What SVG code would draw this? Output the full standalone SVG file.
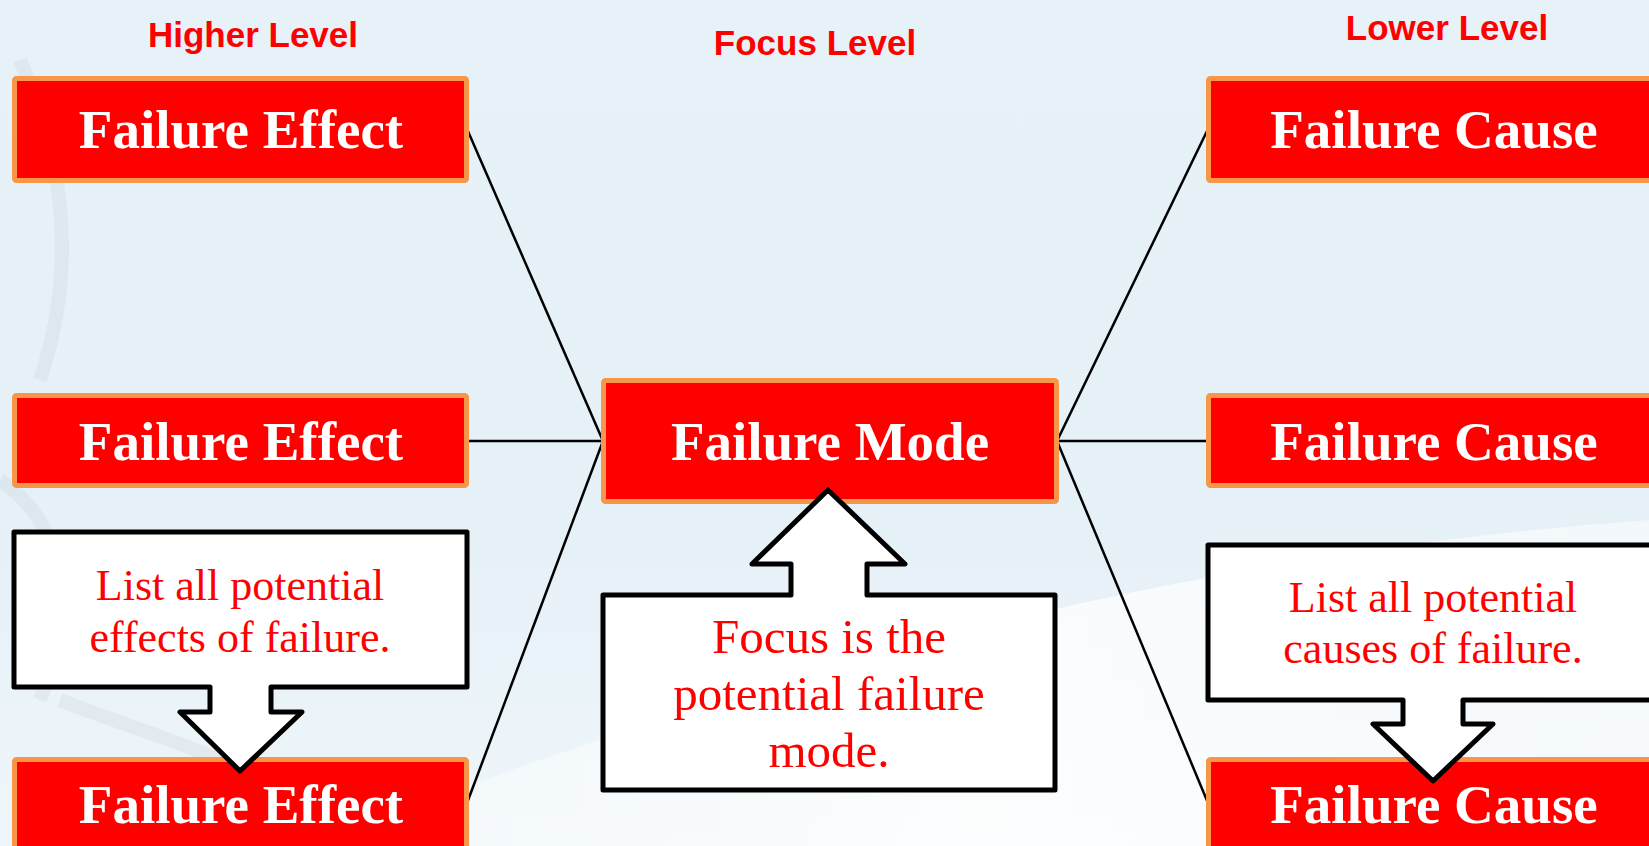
<svg xmlns="http://www.w3.org/2000/svg" width="1649" height="846" viewBox="0 0 1649 846">
<defs>
<linearGradient id="bg" x1="0" y1="0" x2="0" y2="1">
<stop offset="0" stop-color="#E6F1F8"/>
<stop offset="0.6" stop-color="#E5F0F7"/>
<stop offset="1" stop-color="#EFF6FA"/>
</linearGradient>
<linearGradient id="swoosh" x1="0" y1="0" x2="1" y2="0">
<stop offset="0" stop-color="#FFFFFF" stop-opacity="0.2"/>
<stop offset="0.5" stop-color="#FFFFFF" stop-opacity="0.8"/>
<stop offset="1" stop-color="#FFFFFF" stop-opacity="0.5"/>
</linearGradient>
<style>
.lvl{font-family:"Liberation Sans",Arial,sans-serif;font-weight:bold;font-size:35px;fill:#FF0000;text-anchor:middle}
.box rect{fill:#FF0000;stroke:#F79646;stroke-width:5}
.box text{font-family:"Liberation Serif","Times New Roman",serif;font-weight:bold;font-size:55px;fill:#FFFFFF;text-anchor:middle}
.call path{fill:#FFFFFF;stroke:#000000;stroke-width:5;stroke-linejoin:round}
.call text{font-family:"Liberation Serif","Times New Roman",serif;font-size:44px;fill:#FF0000;text-anchor:middle}
.conn line{stroke:#000000;stroke-width:2.5}
</style>
</defs>
<rect x="0" y="0" width="1649" height="846" fill="url(#bg)"/>
<g opacity="0.25" fill="none" stroke="#C8D0D6" stroke-width="14">
<path d="M20,60 C60,150 80,260 40,380"/>
<path d="M0,480 C60,520 80,600 40,700"/>
<path d="M60,700 C160,740 260,760 360,846"/>
</g>
<path d="M300,846 C700,700 1100,560 1649,520 L1649,846 Z" fill="url(#swoosh)"/>

<text class="lvl" x="253" y="47">Higher Level</text>
<text class="lvl" x="815" y="55">Focus Level</text>
<text class="lvl" x="1447" y="40">Lower Level</text>

<g id="connectors" class="conn">
<line x1="467" y1="129" x2="603" y2="441"/>
<line x1="467" y1="441" x2="603" y2="441"/>
<line x1="467" y1="803" x2="603" y2="441"/>
<line x1="1057" y1="441" x2="1208" y2="129"/>
<line x1="1057" y1="441" x2="1208" y2="441"/>
<line x1="1057" y1="441" x2="1208" y2="803"/>
</g>

<g id="effect1" class="box"><rect x="14.5" y="78.5" width="452" height="102" rx="2"/><text x="241" y="148">Failure Effect</text></g>
<g id="effect2" class="box"><rect x="14.5" y="395.5" width="452" height="90" rx="2"/><text x="241" y="460">Failure Effect</text></g>
<g id="effect3" class="box"><rect x="14.5" y="759.5" width="452" height="102" rx="2"/><text x="241" y="823">Failure Effect</text></g>

<g id="mode" class="box"><rect x="603.5" y="380.5" width="453" height="121" rx="2"/><text x="830" y="460">Failure Mode</text></g>

<g id="cause1" class="box"><rect x="1208.5" y="78.5" width="452" height="102" rx="2"/><text x="1434" y="148">Failure Cause</text></g>
<g id="cause2" class="box"><rect x="1208.5" y="395.5" width="452" height="90" rx="2"/><text x="1434" y="460">Failure Cause</text></g>
<g id="cause3" class="box"><rect x="1208.5" y="759.5" width="452" height="102" rx="2"/><text x="1434" y="823">Failure Cause</text></g>

<g id="callout-effects" class="call">
<path d="M14,532 H467 V687 H271 V712 H302 L240,771 L180,712 H210 V687 H14 Z"/>
<text x="240" y="600">List all potential</text>
<text x="240" y="652">effects of failure.</text>
</g>

<g id="callout-mode" class="call">
<path d="M603,595 H791 V564 H752 L828,490 L905,564 H867 V595 H1055 V790 H603 Z"/>
<text x="829" y="653" style="font-size:49px">Focus is the</text>
<text x="829" y="710" style="font-size:49px">potential failure</text>
<text x="829" y="767" style="font-size:49px">mode.</text>
</g>

<g id="callout-causes" class="call">
<path d="M1208,545 H1660 V700 H1463 V724 H1493 L1433,781 L1373,724 H1403 V700 H1208 Z"/>
<text x="1433" y="612">List all potential</text>
<text x="1433" y="663">causes of failure.</text>
</g>
</svg>
